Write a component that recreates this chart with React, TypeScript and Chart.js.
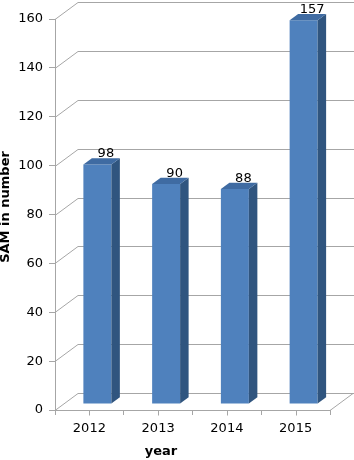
import React, { useEffect, useRef } from "react";
import { Chart, registerables } from "chart.js";

Chart.register(...registerables);

const years = ["2012", "2013", "2014", "2015"];
const samCounts = [98, 90, 88, 157];
const yMin = 0;
const yMax = 160;
const yStep = 20;

const FONT = "'DejaVu Sans', 'Liberation Sans', Arial, sans-serif";
const GRID = "#a6a6a6";
const FRONT = "#4f81bd";
const TOP = "#3f6ba2";
const SIDE = "#30557f";

// 3D geometry (pixels)
const WALL_DX = 23;
const WALL_DY = 17;
const PLANE_DX = 8;
const PLANE_DY = 6;
const BAR_DX = 8.5;
const BAR_DY = 6.3;

const threeD = {
  id: "threeD",
  beforeDatasetsDraw(chart: any) {
    const { ctx, chartArea, scales } = chart;
    const y = scales.y;
    ctx.save();
    ctx.strokeStyle = GRID;
    ctx.lineWidth = 1;
    for (const t of y.ticks) {
      const py = Math.round(y.getPixelForValue(t.value)) + 0.5;
      ctx.beginPath();
      ctx.moveTo(chartArea.left, py);
      ctx.lineTo(chartArea.left + WALL_DX, py - WALL_DY);
      ctx.lineTo(chartArea.right + WALL_DX + 1, py - WALL_DY);
      ctx.stroke();
    }
    // floor right edge
    const by = Math.round(y.getPixelForValue(yMin)) + 0.5;
    ctx.beginPath();
    ctx.moveTo(chartArea.right, by);
    ctx.lineTo(chartArea.right + WALL_DX, by - WALL_DY);
    ctx.stroke();
    // extra x ticks at category centers
    const x = scales.x;
    ctx.beginPath();
    for (let i = 0; i < years.length; i++) {
      const px = Math.round(x.getPixelForValue(i)) + 0.5;
      ctx.moveTo(px, by);
      ctx.lineTo(px, by + 5);
    }
    ctx.stroke();
    ctx.restore();

    ctx.save();
    ctx.translate(PLANE_DX, -PLANE_DY);
  },
  afterDatasetsDraw(chart: any) {
    const { ctx } = chart;
    const meta = chart.getDatasetMeta(0);
    meta.data.forEach((bar: any, i: number) => {
      const { x, y, base, width } = bar.getProps(["x", "y", "base", "width"], true);
      const L = x - width / 2;
      const R = x + width / 2;
      // side
      ctx.fillStyle = SIDE;
      ctx.beginPath();
      ctx.moveTo(R, y);
      ctx.lineTo(R + BAR_DX, y - BAR_DY);
      ctx.lineTo(R + BAR_DX, base - BAR_DY);
      ctx.lineTo(R, base);
      ctx.closePath();
      ctx.fill();
      // top
      ctx.fillStyle = TOP;
      ctx.beginPath();
      ctx.moveTo(L, y);
      ctx.lineTo(L + BAR_DX, y - BAR_DY);
      ctx.lineTo(R + BAR_DX, y - BAR_DY);
      ctx.lineTo(R, y);
      ctx.closePath();
      ctx.fill();
      // value label
      ctx.fillStyle = "#000";
      ctx.font = `13px ${FONT}`;
      ctx.textAlign = "center";
      ctx.textBaseline = "alphabetic";
      ctx.fillText(String(samCounts[i]), x + BAR_DX, y - BAR_DY - 1);
    });
    ctx.restore();

    // axis titles
    ctx.save();
    ctx.fillStyle = "#000";
    ctx.font = `bold 13px ${FONT}`;
    ctx.textAlign = "center";
    ctx.textBaseline = "middle";
    ctx.fillText("year", 161, 452);
    ctx.translate(6, 207);
    ctx.rotate(-Math.PI / 2);
    ctx.fillText("SAM in number", 0, 0);
    ctx.restore();
  },
};

export default function App() {
  const ref = useRef<HTMLCanvasElement>(null);
  useEffect(() => {
    const chart = new Chart(ref.current!, {
      type: "bar",
      data: {
        labels: years,
        datasets: [
          {
            data: samCounts,
            backgroundColor: FRONT,
            borderWidth: 0,
            barPercentage: 0.407,
            categoryPercentage: 1,
            clip: false as any,
          },
        ],
      },
      options: {
        animation: false,
        responsive: false,
        layout: { padding: { top: 19, right: 24, left: 0, bottom: 0 } },
        plugins: { legend: { display: false }, tooltip: { enabled: false } },
        scales: {
          x: {
            type: "category",
            grid: { drawOnChartArea: false, offset: true, tickLength: 5, color: GRID },
            border: { color: GRID },
            ticks: { font: { family: FONT, size: 13 }, color: "#000", padding: 6, maxRotation: 0 },
            afterFit: (s: any) => {
              s.height = 50;
            },
          },
          y: {
            min: yMin,
            max: yMax,
            grid: { drawOnChartArea: false, tickLength: 6, color: GRID },
            border: { color: GRID },
            ticks: { stepSize: yStep, font: { family: FONT, size: 13 }, color: "#000", padding: 6 },
            afterFit: (s: any) => {
              s.width = 55;
            },
          },
        },
      },
      plugins: [threeD],
    });
    return () => chart.destroy();
  }, []);
  return (
    <div style={{ position: "fixed", left: 0, top: 0, width: 354, height: 460, background: "#fff" }}>
      <canvas ref={ref} width={354} height={460} style={{ display: "block" }} />
    </div>
  );
}
